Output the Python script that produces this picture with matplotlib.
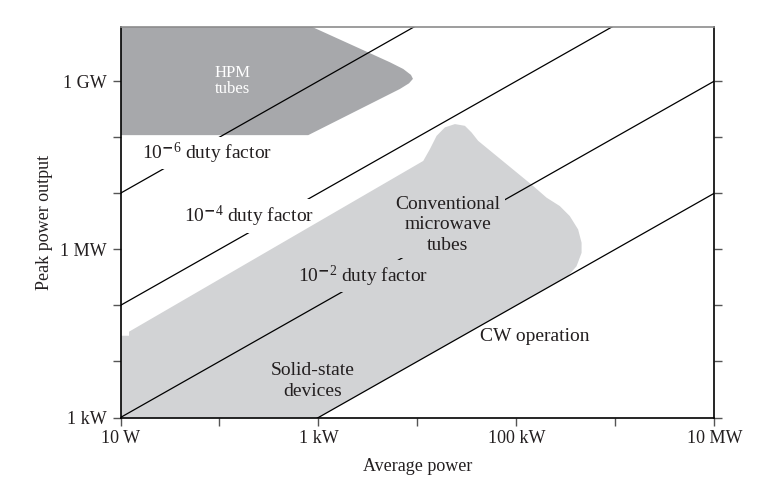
import numpy as np
import matplotlib
matplotlib.use("Agg")
import matplotlib.pyplot as plt
from matplotlib.ticker import FixedLocator, FixedFormatter

plt.rcParams["font.family"] = ["Liberation Serif", "DejaVu Serif"]
plt.rcParams["mathtext.fontset"] = "custom"
plt.rcParams["mathtext.rm"] = "Liberation Serif"
plt.rcParams["mathtext.it"] = "Liberation Serif:italic"

INK = "#231f20"
LIGHT = "#d2d3d5"
DARK = "#a7a8ab"

# duty factor lines: peak = average / duty
duty_factors = [1e-6, 1e-4, 1e-2, 1.0]
line_avg = [10, 1e7]

# axis ticks (W)
x_ticks = [1e1, 1e2, 1e3, 1e4, 1e5, 1e6, 1e7]
x_labels = ["10 W", "", "1 kW", "", "100 kW", "", "10 MW"]
y_ticks = [1e3, 1e4, 1e5, 1e6, 1e7, 1e8, 1e9]
y_labels = ["1 kW", "", "", "1 MW", "", "", "1 GW"]

# outlines of the regions, log10(W)
hpm_avg_log = [1.0, 2.931, 3.722, 3.857, 3.935, 3.955, 3.915, 3.823, 2.897, 1.0]
hpm_peak_log = [9.97, 9.97, 9.336, 9.216, 9.11, 9.04, 8.96, 8.859, 8.036, 8.036]

tube_avg_log = [1.0, 1.0, 1.086, 1.086, 4.059, 4.126, 4.194, 4.278, 4.379,
                4.480, 4.547, 4.614, 5.170, 5.305, 5.439, 5.540, 5.624,
                5.659, 5.659, 5.608, 5.52, 3.0]
tube_peak_log = [3.0, 4.458, 4.458, 4.530, 7.576, 7.785, 8.023, 8.174, 8.233,
                 8.202, 8.084, 7.934, 7.129, 6.921, 6.771, 6.592, 6.354,
                 6.116, 5.937, 5.698, 5.52, 3.0]

fig = plt.figure(figsize=(7.72, 4.87), dpi=100)
ax = fig.add_axes([120.5 / 772, (487 - 417.5) / 487,
                   (714.3 - 120.5) / 772, (417.5 - 26.7) / 487])
ax.set_xscale("log")
ax.set_yscale("log")
ax.set_xlim(10, 1e7)
ax.set_ylim(1e3, 10 ** 9.97)

ax.fill(10 ** np.array(tube_avg_log), 10 ** np.array(tube_peak_log),
        color=LIGHT, lw=0, zorder=2)
ax.fill(10 ** np.array(hpm_avg_log), 10 ** np.array(hpm_peak_log),
        color=DARK, lw=0, zorder=2)

for d in duty_factors:
    avg = np.array(line_avg)
    # the 1e-4 line touches no shaded area, keep it (and its label) under the fills
    z = 1.2 if d == 1e-4 else 3
    ax.plot(avg, avg / d, color="black", lw=0.9, zorder=z)

# labels
ax.text(0.1894, 0.861, "HPM\ntubes", transform=ax.transAxes, color="white",
        fontsize=12, ha="center", va="center", linespacing=1.0, zorder=4)
ax.text(0.1457, 0.677, r"$10^{\mathbf{-}6}$ duty factor", transform=ax.transAxes,
        color=INK, fontsize=14, ha="center", va="center", zorder=4,
        bbox=dict(fc="white", ec="none", pad=2.5))
ax.text(0.2156, 0.5156, r"$10^{\mathbf{-}4}$ duty factor", transform=ax.transAxes,
        color=INK, fontsize=14, ha="center", va="center", zorder=1.5,
        bbox=dict(fc="white", ec="none", pad=3))
ax.text(0.4084, 0.362, r"$10^{\mathbf{-}2}$ duty factor", transform=ax.transAxes,
        color=INK, fontsize=14, ha="center", va="center", zorder=4,
        bbox=dict(fc=LIGHT, ec="none", pad=2.5))
ax.text(0.5515, 0.4926, "Conventional\nmicrowave\ntubes", transform=ax.transAxes,
        color=INK, fontsize=14, ha="center", va="center", linespacing=1.3,
        zorder=4, bbox=dict(fc=LIGHT, ec="none", pad=3))
ax.text(0.698, 0.2085, "CW operation", transform=ax.transAxes,
        color=INK, fontsize=14, ha="center", va="center", zorder=4)
ax.text(0.3242, 0.0934, "Solid-state\ndevices", transform=ax.transAxes,
        color=INK, fontsize=14, ha="center", va="center", linespacing=1.3,
        zorder=4)

# axes dressing
ax.xaxis.set_major_locator(FixedLocator(x_ticks))
ax.xaxis.set_major_formatter(FixedFormatter(x_labels))
ax.yaxis.set_major_locator(FixedLocator(y_ticks))
ax.yaxis.set_major_formatter(FixedFormatter(y_labels))
ax.minorticks_off()
ax.tick_params(axis="both", direction="out", length=6, width=1.0,
               color="#555555", labelsize=13, labelcolor=INK)
ax.tick_params(axis="x", pad=3)
ax.tick_params(axis="y", pad=4, right=True)

for side in ["left", "bottom", "right"]:
    ax.spines[side].set_color("black")
    ax.spines[side].set_linewidth(1.2)
    ax.spines[side].set_zorder(5)
ax.spines["top"].set_color("#8c8c8c")
ax.spines["top"].set_linewidth(1.2)
ax.spines["top"].set_zorder(5)

ax.set_xlabel("Average power", fontsize=13, color=INK, labelpad=8)
ax.set_ylabel("Peak power output", fontsize=13, color=INK, labelpad=5)

fig.savefig("out.png", dpi=100)
